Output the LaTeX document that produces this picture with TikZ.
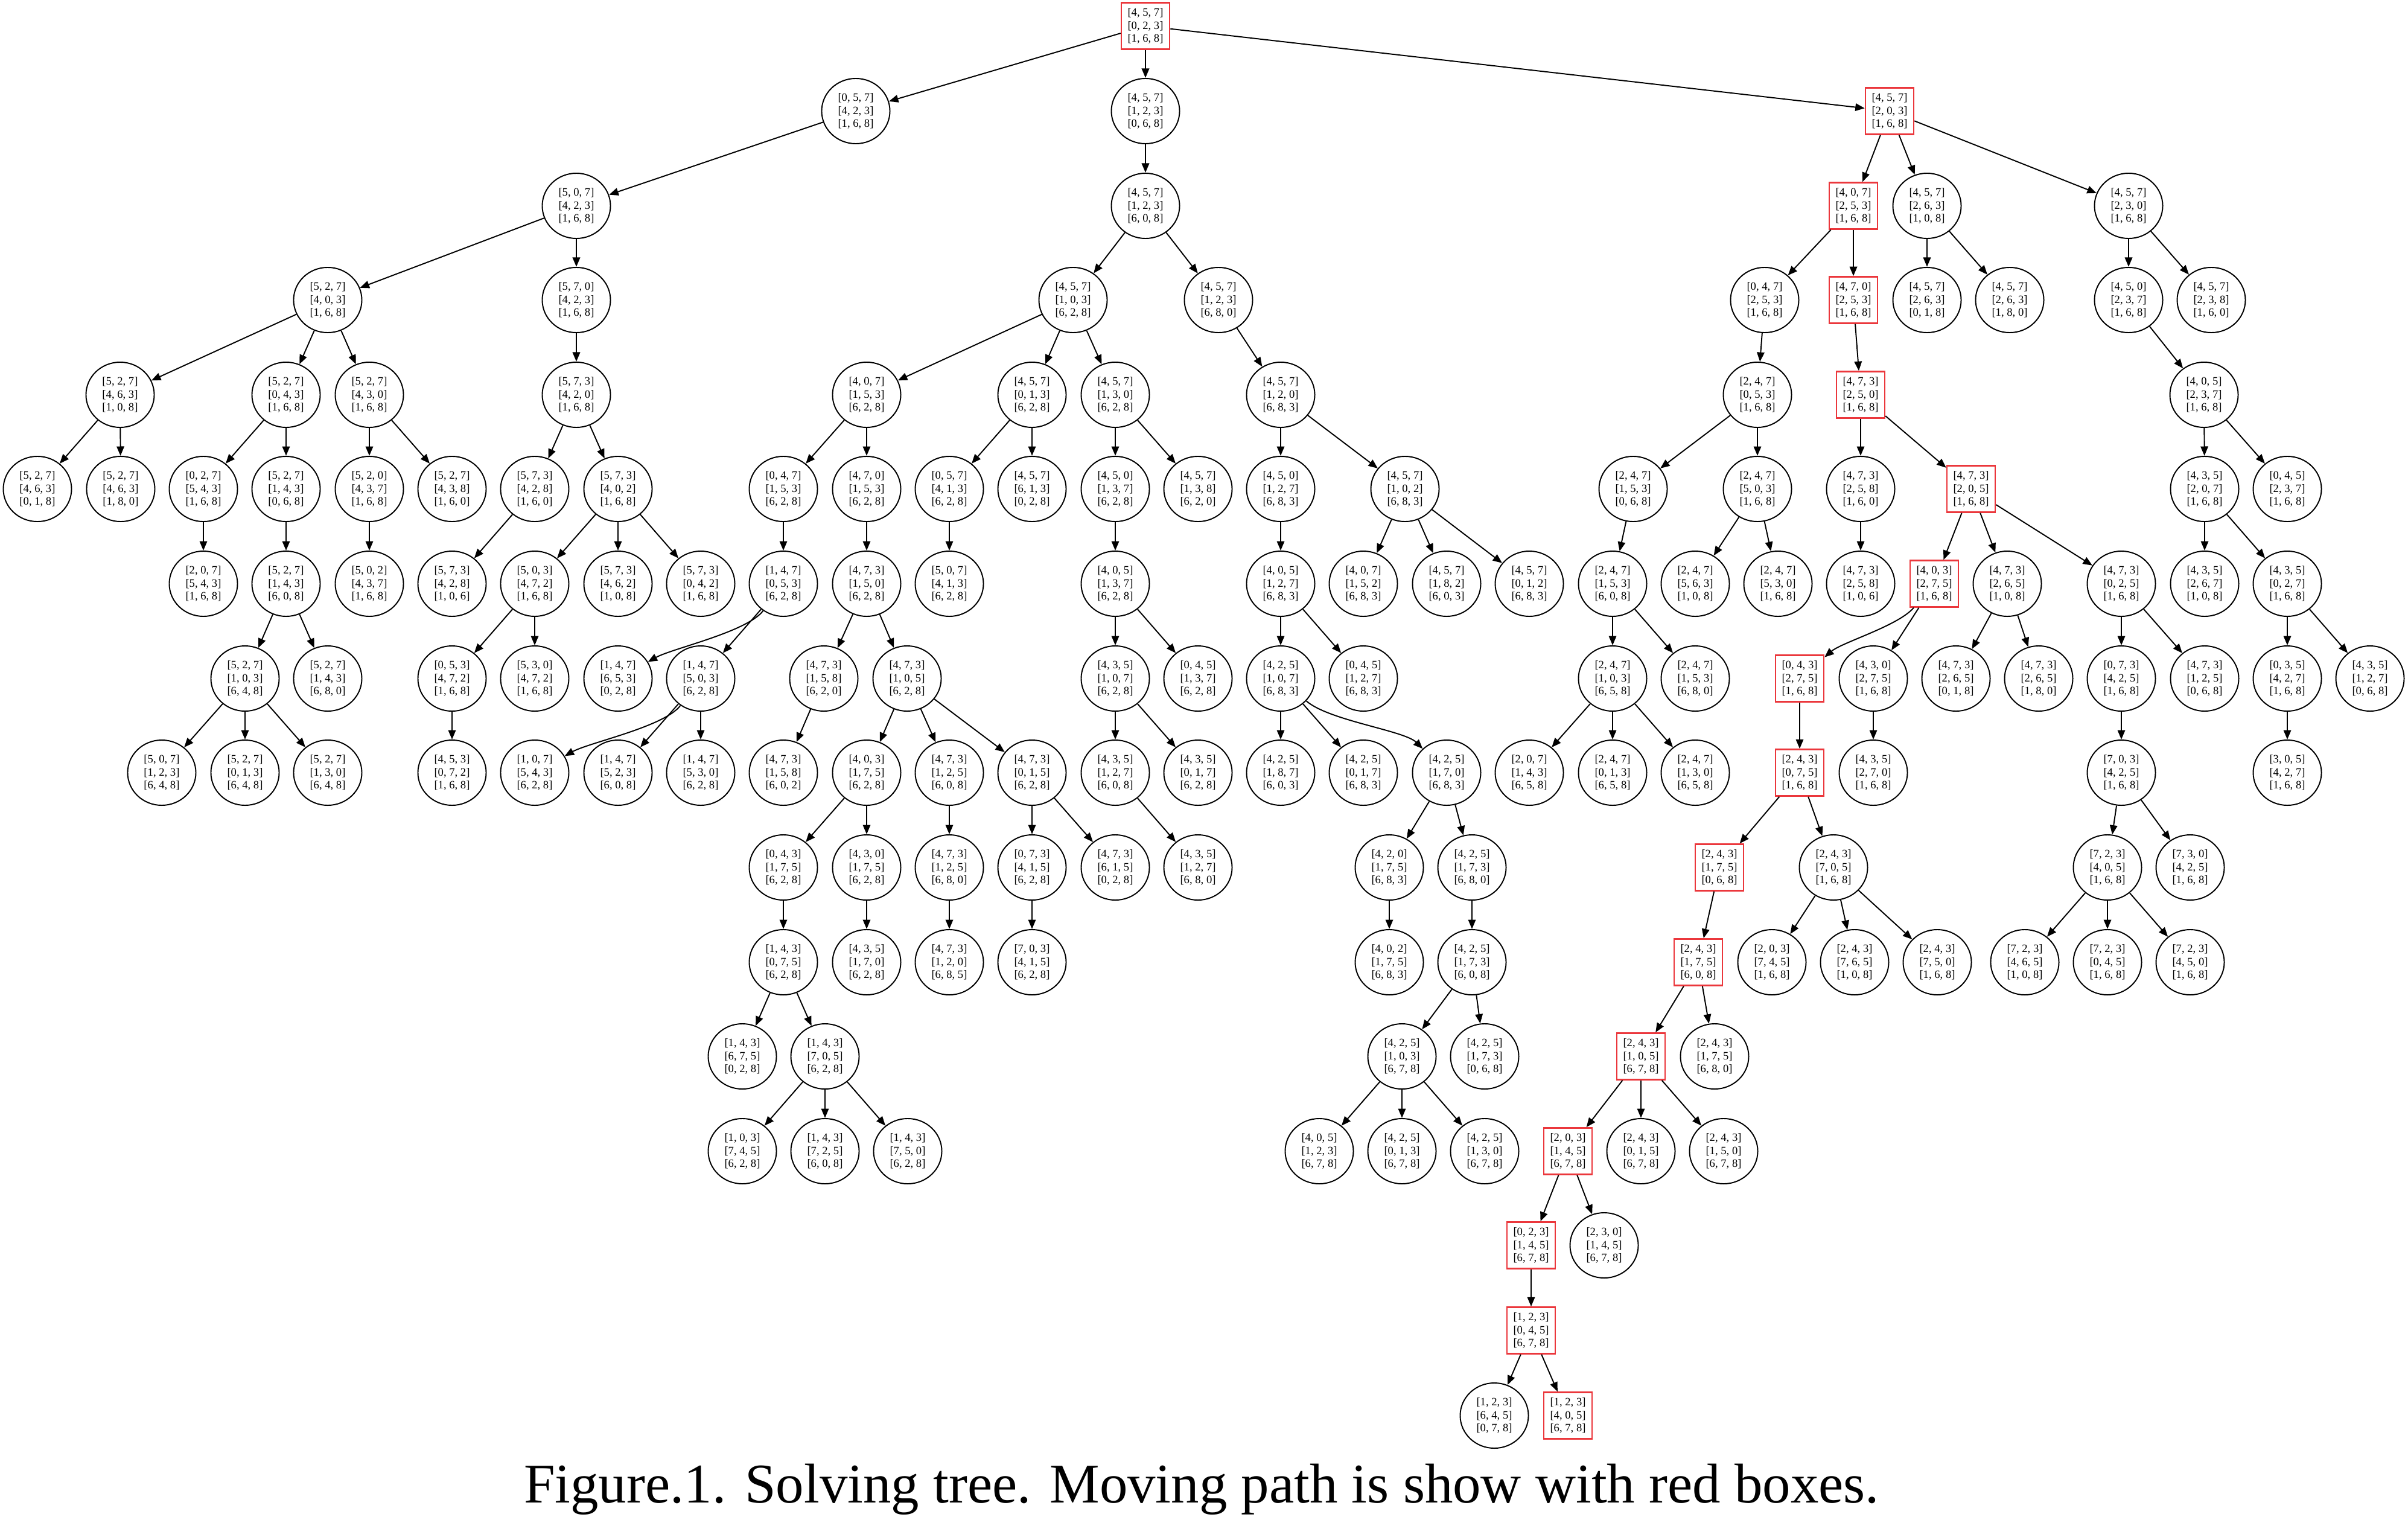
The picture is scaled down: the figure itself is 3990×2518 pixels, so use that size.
\documentclass[tikz,border=0pt]{standalone}
\usepackage{fontspec}
\setmainfont{Liberation Serif}
\usetikzlibrary{shapes.geometric,arrows.meta}
\definecolor{pathred}{RGB}{235,55,60}
\newcommand{\brdd}[9]{[#1, #2, #3]\\\relax[#4, #5, #6]\\\relax[#7, #8, #9]}
\begin{document}
\begin{tikzpicture}[x=0.01cm, y=-0.01cm,
    board/.style={ellipse, draw, line width=0.55pt, minimum width=1.13cm, minimum height=1.08cm,
      inner sep=0pt, align=center, font=\fontsize{5.3}{6.15}\selectfont},
    moved/.style={board, rectangle, draw=pathred, line width=0.7pt, minimum width=0.80cm, minimum height=0.77cm},
    arr/.style={line width=0.55pt, -{Triangle[length=1.55mm,width=1.25mm]}},
    every edge/.style={draw, arr}]
    \useasboundingbox (0,0) rectangle (3990,2518);

    % start
    \node[moved] (s457023168) at (1898,43) {\brdd457023168};
    % rank 1
    \node[board] (s057423168) at (1418,184) {\brdd057423168};
    \node[board] (s457123068) at (1898,184) {\brdd457123068};
    \node[moved] (s457203168) at (3131,184) {\brdd457203168};
    % rank 2
    \node[board] (s507423168) at (955,341) {\brdd507423168};
    \node[board] (s457123608) at (1898,341) {\brdd457123608};
    \node[moved] (s407253168) at (3071,341) {\brdd407253168};
    \node[board] (s457263108) at (3193,341) {\brdd457263108};
    \node[board] (s457230168) at (3527,341) {\brdd457230168};
    % rank 3
    \node[board] (s527403168) at (543,497) {\brdd527403168};
    \node[board] (s570423168) at (955,497) {\brdd570423168};
    \node[board] (s457103628) at (1778,497) {\brdd457103628};
    \node[board] (s457123680) at (2019,497) {\brdd457123680};
    \node[board] (s047253168) at (2924,497) {\brdd047253168};
    \node[moved] (s470253168) at (3071,497) {\brdd470253168};
    \node[board] (s457263018) at (3193,497) {\brdd457263018};
    \node[board] (s457263180) at (3330,497) {\brdd457263180};
    \node[board] (s450237168) at (3527,497) {\brdd450237168};
    \node[board] (s457238160) at (3664,497) {\brdd457238160};
    % rank 4
    \node[board] (s527463108) at (199,654) {\brdd527463108};
    \node[board] (s527043168) at (474,654) {\brdd527043168};
    \node[board] (s527430168) at (612,654) {\brdd527430168};
    \node[board] (s573420168) at (955,654) {\brdd573420168};
    \node[board] (s407153628) at (1436,654) {\brdd407153628};
    \node[board] (s457013628) at (1710,654) {\brdd457013628};
    \node[board] (s457130628) at (1848,654) {\brdd457130628};
    \node[board] (s457120683) at (2122,654) {\brdd457120683};
    \node[board] (s247053168) at (2912,654) {\brdd247053168};
    \node[moved] (s473250168) at (3083,654) {\brdd473250168};
    \node[board] (s405237168) at (3652,654) {\brdd405237168};
    % rank 5
    \node[board] (s527463018) at (62,810) {\brdd527463018};
    \node[board] (s527463180) at (200,810) {\brdd527463180};
    \node[board] (s027543168) at (337,810) {\brdd027543168};
    \node[board] (s527143068) at (474,810) {\brdd527143068};
    \node[board] (s520437168) at (612,810) {\brdd520437168};
    \node[board] (s527438160) at (749,810) {\brdd527438160};
    \node[board] (s573428160) at (886,810) {\brdd573428160};
    \node[board] (s573402168) at (1024,810) {\brdd573402168};
    \node[board] (s047153628) at (1298,810) {\brdd047153628};
    \node[board] (s470153628) at (1436,810) {\brdd470153628};
    \node[board] (s057413628) at (1573,810) {\brdd057413628};
    \node[board] (s457613028) at (1710,810) {\brdd457613028};
    \node[board] (s450137628) at (1848,810) {\brdd450137628};
    \node[board] (s457138620) at (1985,810) {\brdd457138620};
    \node[board] (s450127683) at (2122,810) {\brdd450127683};
    \node[board] (s457102683) at (2328,810) {\brdd457102683};
    \node[board] (s247153068) at (2706,810) {\brdd247153068};
    \node[board] (s247503168) at (2912,810) {\brdd247503168};
    \node[board] (s473258160) at (3083,810) {\brdd473258160};
    \node[moved] (s473205168) at (3266,810) {\brdd473205168};
    \node[board] (s435207168) at (3653,810) {\brdd435207168};
    \node[board] (s045237168) at (3790,810) {\brdd045237168};
    % rank 6
    \node[board] (s207543168) at (337,967) {\brdd207543168};
    \node[board] (s527143608) at (474,967) {\brdd527143608};
    \node[board] (s502437168) at (612,967) {\brdd502437168};
    \node[board] (s573428106) at (749,967) {\brdd573428106};
    \node[board] (s503472168) at (886,967) {\brdd503472168};
    \node[board] (s573462108) at (1024,967) {\brdd573462108};
    \node[board] (s573042168) at (1161,967) {\brdd573042168};
    \node[board] (s147053628) at (1298,967) {\brdd147053628};
    \node[board] (s473150628) at (1436,967) {\brdd473150628};
    \node[board] (s507413628) at (1573,967) {\brdd507413628};
    \node[board] (s405137628) at (1848,967) {\brdd405137628};
    \node[board] (s405127683) at (2122,967) {\brdd405127683};
    \node[board] (s407152683) at (2259,967) {\brdd407152683};
    \node[board] (s457182603) at (2397,967) {\brdd457182603};
    \node[board] (s457012683) at (2534,967) {\brdd457012683};
    \node[board] (s247153608) at (2672,967) {\brdd247153608};
    \node[board] (s247563108) at (2809,967) {\brdd247563108};
    \node[board] (s247530168) at (2946,967) {\brdd247530168};
    \node[board] (s473258106) at (3083,967) {\brdd473258106};
    \node[moved] (s403275168) at (3205,967) {\brdd403275168};
    \node[board] (s473265108) at (3326,967) {\brdd473265108};
    \node[board] (s473025168) at (3515,967) {\brdd473025168};
    \node[board] (s435267108) at (3653,967) {\brdd435267108};
    \node[board] (s435027168) at (3790,967) {\brdd435027168};
    % rank 7
    \node[board] (s527103648) at (406,1124) {\brdd527103648};
    \node[board] (s527143680) at (543,1124) {\brdd527143680};
    \node[board] (s053472168) at (749,1124) {\brdd053472168};
    \node[board] (s530472168) at (886,1124) {\brdd530472168};
    \node[board] (s147653028) at (1024,1124) {\brdd147653028};
    \node[board] (s147503628) at (1161,1124) {\brdd147503628};
    \node[board] (s473158620) at (1365,1124) {\brdd473158620};
    \node[board] (s473105628) at (1503,1124) {\brdd473105628};
    \node[board] (s435107628) at (1848,1124) {\brdd435107628};
    \node[board] (s045137628) at (1985,1124) {\brdd045137628};
    \node[board] (s425107683) at (2122,1124) {\brdd425107683};
    \node[board] (s045127683) at (2259,1124) {\brdd045127683};
    \node[board] (s247103658) at (2672,1124) {\brdd247103658};
    \node[board] (s247153680) at (2809,1124) {\brdd247153680};
    \node[moved] (s043275168) at (2982,1124) {\brdd043275168};
    \node[board] (s430275168) at (3104,1124) {\brdd430275168};
    \node[board] (s473265018) at (3241,1124) {\brdd473265018};
    \node[board] (s473265180) at (3378,1124) {\brdd473265180};
    \node[board] (s073425168) at (3515,1124) {\brdd073425168};
    \node[board] (s473125068) at (3653,1124) {\brdd473125068};
    \node[board] (s035427168) at (3790,1124) {\brdd035427168};
    \node[board] (s435127068) at (3927,1124) {\brdd435127068};
    % rank 8
    \node[board] (s507123648) at (268,1280) {\brdd507123648};
    \node[board] (s527013648) at (406,1280) {\brdd527013648};
    \node[board] (s527130648) at (543,1280) {\brdd527130648};
    \node[board] (s453072168) at (749,1280) {\brdd453072168};
    \node[board] (s107543628) at (886,1280) {\brdd107543628};
    \node[board] (s147523608) at (1024,1280) {\brdd147523608};
    \node[board] (s147530628) at (1161,1280) {\brdd147530628};
    \node[board] (s473158602) at (1298,1280) {\brdd473158602};
    \node[board] (s403175628) at (1436,1280) {\brdd403175628};
    \node[board] (s473125608) at (1573,1280) {\brdd473125608};
    \node[board] (s473015628) at (1710,1280) {\brdd473015628};
    \node[board] (s435127608) at (1848,1280) {\brdd435127608};
    \node[board] (s435017628) at (1985,1280) {\brdd435017628};
    \node[board] (s425187603) at (2122,1280) {\brdd425187603};
    \node[board] (s425017683) at (2259,1280) {\brdd425017683};
    \node[board] (s425170683) at (2397,1280) {\brdd425170683};
    \node[board] (s207143658) at (2534,1280) {\brdd207143658};
    \node[board] (s247013658) at (2672,1280) {\brdd247013658};
    \node[board] (s247130658) at (2809,1280) {\brdd247130658};
    \node[moved] (s243075168) at (2982,1280) {\brdd243075168};
    \node[board] (s435270168) at (3104,1280) {\brdd435270168};
    \node[board] (s703425168) at (3515,1280) {\brdd703425168};
    \node[board] (s305427168) at (3790,1280) {\brdd305427168};
    % rank 9
    \node[board] (s043175628) at (1298,1437) {\brdd043175628};
    \node[board] (s430175628) at (1436,1437) {\brdd430175628};
    \node[board] (s473125680) at (1573,1437) {\brdd473125680};
    \node[board] (s073415628) at (1710,1437) {\brdd073415628};
    \node[board] (s473615028) at (1848,1437) {\brdd473615028};
    \node[board] (s435127680) at (1985,1437) {\brdd435127680};
    \node[board] (s420175683) at (2302,1437) {\brdd420175683};
    \node[board] (s425173680) at (2439,1437) {\brdd425173680};
    \node[moved] (s243175068) at (2849,1437) {\brdd243175068};
    \node[board] (s243705168) at (3038,1437) {\brdd243705168};
    \node[board] (s723405168) at (3492,1437) {\brdd723405168};
    \node[board] (s730425168) at (3629,1437) {\brdd730425168};
    % rank 10
    \node[board] (s143075628) at (1298,1594) {\brdd143075628};
    \node[board] (s435170628) at (1436,1594) {\brdd435170628};
    \node[board] (s473120685) at (1573,1594) {\brdd473120685};
    \node[board] (s703415628) at (1710,1594) {\brdd703415628};
    \node[board] (s402175683) at (2302,1594) {\brdd402175683};
    \node[board] (s425173608) at (2439,1594) {\brdd425173608};
    \node[moved] (s243175608) at (2814,1594) {\brdd243175608};
    \node[board] (s203745168) at (2936,1594) {\brdd203745168};
    \node[board] (s243765108) at (3073,1594) {\brdd243765108};
    \node[board] (s243750168) at (3210,1594) {\brdd243750168};
    \node[board] (s723465108) at (3355,1594) {\brdd723465108};
    \node[board] (s723045168) at (3492,1594) {\brdd723045168};
    \node[board] (s723450168) at (3629,1594) {\brdd723450168};
    % rank 11
    \node[board] (s143675028) at (1230,1750) {\brdd143675028};
    \node[board] (s143705628) at (1367,1750) {\brdd143705628};
    \node[board] (s425103678) at (2323,1750) {\brdd425103678};
    \node[board] (s425173068) at (2460,1750) {\brdd425173068};
    \node[moved] (s243105678) at (2719,1750) {\brdd243105678};
    \node[board] (s243175680) at (2841,1750) {\brdd243175680};
    % rank 12
    \node[board] (s103745628) at (1230,1907) {\brdd103745628};
    \node[board] (s143725608) at (1367,1907) {\brdd143725608};
    \node[board] (s143750628) at (1504,1907) {\brdd143750628};
    \node[board] (s405123678) at (2186,1907) {\brdd405123678};
    \node[board] (s425013678) at (2323,1907) {\brdd425013678};
    \node[board] (s425130678) at (2460,1907) {\brdd425130678};
    \node[moved] (s203145678) at (2598,1907) {\brdd203145678};
    \node[board] (s243015678) at (2719,1907) {\brdd243015678};
    \node[board] (s243150678) at (2856,1907) {\brdd243150678};
    % rank 13 to 15
    \node[moved] (s023145678) at (2537,2063) {\brdd023145678};
    \node[board] (s230145678) at (2658,2063) {\brdd230145678};
    \node[moved] (s123045678) at (2537,2204) {\brdd123045678};
    \node[board] (s123645078) at (2476,2345) {\brdd123645078};
    \node[moved] (s123405678) at (2598,2345) {\brdd123405678};

    % left branch
    \path (s457023168) edge (s057423168) edge (s457123068) edge (s457203168);
    \path (s057423168) edge (s507423168);
    \path (s507423168) edge (s527403168) edge (s570423168);
    \path (s527403168) edge (s527463108) edge (s527043168) edge (s527430168);
    \path (s527463108) edge (s527463018) edge (s527463180);
    \path (s527043168) edge (s027543168) edge (s527143068);
    \path (s027543168) edge (s207543168);
    \path (s527143068) edge (s527143608);
    \path (s527143608) edge (s527103648) edge (s527143680);
    \path (s527103648) edge (s507123648) edge (s527013648) edge (s527130648);
    \path (s527430168) edge (s520437168) edge (s527438160);
    \path (s520437168) edge (s502437168);
    \path (s570423168) edge (s573420168);
    \path (s573420168) edge (s573428160) edge (s573402168);
    \path (s573428160) edge (s573428106);
    \path (s573402168) edge (s503472168) edge (s573462108) edge (s573042168);
    \path (s503472168) edge (s053472168) edge (s530472168);
    \path (s053472168) edge (s453072168);

    % middle branch
    \path (s457123068) edge (s457123608);
    \path (s457123608) edge (s457103628) edge (s457123680);
    \path (s457103628) edge (s407153628) edge (s457013628) edge (s457130628);
    \path (s407153628) edge (s047153628) edge (s470153628);
    \path (s047153628) edge (s147053628);
    \path (s147053628) edge (s147503628);
    \draw[arr] (s147053628) .. controls +(-60,80) and +(90,-50) .. (s147653028);
    \path (s147503628) edge (s147523608) edge (s147530628);
    \draw[arr] (s147503628) .. controls +(-60,80) and +(90,-50) .. (s107543628);
    \path (s470153628) edge (s473150628);
    \path (s473150628) edge (s473158620) edge (s473105628);
    \path (s473158620) edge (s473158602);
    \path (s473105628) edge (s403175628) edge (s473125608) edge (s473015628);
    \path (s403175628) edge (s043175628) edge (s430175628);
    \path (s043175628) edge (s143075628);
    \path (s143075628) edge (s143675028) edge (s143705628);
    \path (s143705628) edge (s103745628) edge (s143725608) edge (s143750628);
    \path (s430175628) edge (s435170628);
    \path (s473125608) edge (s473125680);
    \path (s473125680) edge (s473120685);
    \path (s473015628) edge (s073415628) edge (s473615028);
    \path (s073415628) edge (s703415628);
    \path (s457013628) edge (s057413628) edge (s457613028);
    \path (s057413628) edge (s507413628);
    \path (s457130628) edge (s450137628) edge (s457138620);
    \path (s450137628) edge (s405137628);
    \path (s405137628) edge (s435107628) edge (s045137628);
    \path (s435107628) edge (s435127608) edge (s435017628);
    \path (s435127608) edge (s435127680);
    \path (s457123680) edge (s457120683);
    \path (s457120683) edge (s450127683) edge (s457102683);
    \path (s450127683) edge (s405127683);
    \path (s405127683) edge (s425107683) edge (s045127683);
    \path (s425107683) edge (s425187603) edge (s425017683);
    \draw[arr] (s425107683) .. controls +(80,70) and +(-70,-70) .. (s425170683);
    \path (s425170683) edge (s420175683) edge (s425173680);
    \path (s420175683) edge (s402175683);
    \path (s425173680) edge (s425173608);
    \path (s425173608) edge (s425103678) edge (s425173068);
    \path (s425103678) edge (s405123678) edge (s425013678) edge (s425130678);
    \path (s457102683) edge (s407152683) edge (s457182603) edge (s457012683);

    % right branch, with the moving path
    \path (s457203168) edge (s407253168) edge (s457263108) edge (s457230168);
    \path (s407253168) edge (s047253168) edge (s470253168);
    \path (s047253168) edge (s247053168);
    \path (s247053168) edge (s247153068) edge (s247503168);
    \path (s247153068) edge (s247153608);
    \path (s247153608) edge (s247103658) edge (s247153680);
    \path (s247103658) edge (s207143658) edge (s247013658) edge (s247130658);
    \path (s247503168) edge (s247563108) edge (s247530168);
    \path (s470253168) edge (s473250168);
    \path (s473250168) edge (s473258160) edge (s473205168);
    \path (s473258160) edge (s473258106);
    \path (s473205168) edge (s403275168) edge (s473265108) edge (s473025168);
    \draw[arr] (s403275168) .. controls +(-60,70) and +(70,-60) .. (s043275168);
    \path (s403275168) edge (s430275168);
    \path (s043275168) edge (s243075168);
    \path (s243075168) edge (s243175068) edge (s243705168);
    \path (s243175068) edge (s243175608);
    \path (s243175608) edge (s243105678) edge (s243175680);
    \path (s243105678) edge (s203145678) edge (s243015678) edge (s243150678);
    \path (s203145678) edge (s023145678) edge (s230145678);
    \path (s023145678) edge (s123045678);
    \path (s123045678) edge (s123645078) edge (s123405678);
    \path (s243705168) edge (s203745168) edge (s243765108) edge (s243750168);
    \path (s430275168) edge (s435270168);
    \path (s473265108) edge (s473265018) edge (s473265180);
    \path (s473025168) edge (s073425168) edge (s473125068);
    \path (s073425168) edge (s703425168);
    \path (s703425168) edge (s723405168) edge (s730425168);
    \path (s723405168) edge (s723465108) edge (s723045168) edge (s723450168);
    \path (s457263108) edge (s457263018) edge (s457263180);
    \path (s457230168) edge (s450237168) edge (s457238160);
    \path (s450237168) edge (s405237168);
    \path (s405237168) edge (s435207168) edge (s045237168);
    \path (s435207168) edge (s435267108) edge (s435027168);
    \path (s435027168) edge (s035427168) edge (s435127068);
    \path (s035427168) edge (s305427168);

    % caption
    \node[anchor=base, font=\fontsize{26.4}{30}\selectfont] (caption) at (1991,2489)
      {Figure.1. Solving tree. Moving path is show with red boxes.};
\end{tikzpicture}
\end{document}
